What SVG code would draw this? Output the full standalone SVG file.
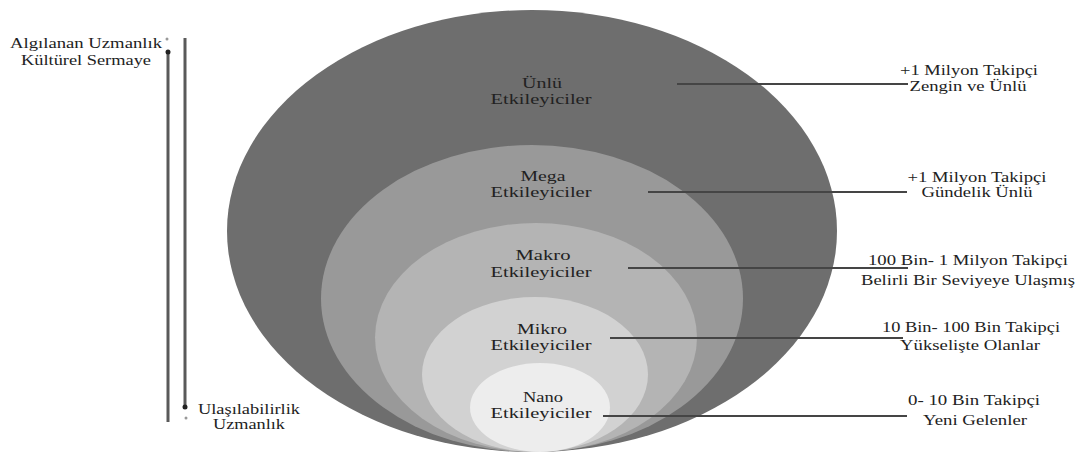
<svg xmlns="http://www.w3.org/2000/svg" width="1078" height="455" viewBox="0 0 1078 455">
<style>
text{font-family:"Liberation Serif","Times New Roman",serif;font-size:14px;fill:#222;text-anchor:middle}
.lead{stroke:#454545;stroke-width:2;fill:none}
.axis{stroke:#5a5a5a;stroke-width:3;fill:none}
</style>
<rect width="1078" height="455" fill="#fff"/>
<g id="unlu">
<ellipse cx="532" cy="231" rx="305" ry="221" fill="#6e6e6e"/>
<text x="542" y="88" textLength="40" lengthAdjust="spacingAndGlyphs">Ünlü</text>
<text x="541" y="104" textLength="101" lengthAdjust="spacingAndGlyphs">Etkileyiciler</text>
</g>
<g id="mega">
<ellipse cx="532" cy="298.5" rx="211" ry="153.5" fill="#999999"/>
<text x="543" y="181" textLength="45" lengthAdjust="spacingAndGlyphs">Mega</text>
<text x="541" y="197" textLength="101" lengthAdjust="spacingAndGlyphs">Etkileyiciler</text>
</g>
<g id="makro">
<ellipse cx="536" cy="337.5" rx="161" ry="114.5" fill="#b4b4b4"/>
<text x="543" y="260" textLength="55" lengthAdjust="spacingAndGlyphs">Makro</text>
<text x="541" y="277" textLength="101" lengthAdjust="spacingAndGlyphs">Etkileyiciler</text>
</g>
<g id="mikro">
<ellipse cx="535" cy="374.5" rx="113" ry="77.5" fill="#d2d2d2"/>
<text x="542" y="334" textLength="50" lengthAdjust="spacingAndGlyphs">Mikro</text>
<text x="541" y="350" textLength="101" lengthAdjust="spacingAndGlyphs">Etkileyiciler</text>
</g>
<g id="nano">
<ellipse cx="540" cy="407.5" rx="70" ry="44.5" fill="#ededed"/>
<text x="543" y="402" textLength="40" lengthAdjust="spacingAndGlyphs">Nano</text>
<text x="541" y="418" textLength="101" lengthAdjust="spacingAndGlyphs">Etkileyiciler</text>
</g>
<g id="connectors">
<line class="lead" x1="677" y1="84" x2="908" y2="84"/>
<line class="lead" x1="648" y1="192" x2="907" y2="192"/>
<line class="lead" x1="628" y1="268" x2="908" y2="268"/>
<line class="lead" x1="610" y1="338" x2="903" y2="338"/>
<line class="lead" x1="603" y1="416" x2="907" y2="416"/>
</g>
<g id="right-labels">
<text x="969" y="75" textLength="138" lengthAdjust="spacingAndGlyphs">+1 Milyon Takipçi</text>
<text x="968" y="91" textLength="117" lengthAdjust="spacingAndGlyphs">Zengin ve Ünlü</text>
<text x="977" y="182" textLength="139" lengthAdjust="spacingAndGlyphs">+1 Milyon Takipçi</text>
<text x="977" y="197" textLength="111" lengthAdjust="spacingAndGlyphs">Gündelik Ünlü</text>
<text x="968" y="265" textLength="200" lengthAdjust="spacingAndGlyphs">100 Bin- 1 Milyon Takipçi</text>
<text x="968" y="285" textLength="214" lengthAdjust="spacingAndGlyphs">Belirli Bir Seviyeye Ulaşmış</text>
<text x="971" y="332" textLength="178" lengthAdjust="spacingAndGlyphs">10 Bin- 100 Bin Takipçi</text>
<text x="970" y="350" textLength="140" lengthAdjust="spacingAndGlyphs">Yükselişte Olanlar</text>
<text x="974" y="405" textLength="132" lengthAdjust="spacingAndGlyphs">0- 10 Bin Takipçi</text>
<text x="975" y="425" textLength="104" lengthAdjust="spacingAndGlyphs">Yeni Gelenler</text>
</g>
<g id="axis">
<line class="axis" x1="168" y1="52" x2="168" y2="422"/>
<circle cx="168" cy="52" r="2.5" fill="#222"/>
<line class="axis" x1="185" y1="38" x2="185" y2="407"/>
<circle cx="185" cy="407" r="2.5" fill="#222"/>
<circle cx="167" cy="39" r="1.5" fill="#999"/>
<circle cx="186" cy="418" r="1.5" fill="#999"/>
<text x="86" y="48" textLength="152" lengthAdjust="spacingAndGlyphs">Algılanan Uzmanlık</text>
<text x="86" y="65" textLength="130" lengthAdjust="spacingAndGlyphs">Kültürel Sermaye</text>
<text x="249" y="414" textLength="102" lengthAdjust="spacingAndGlyphs">Ulaşılabilirlik</text>
<text x="249" y="429" textLength="72" lengthAdjust="spacingAndGlyphs">Uzmanlık</text>
</g>
</svg>
